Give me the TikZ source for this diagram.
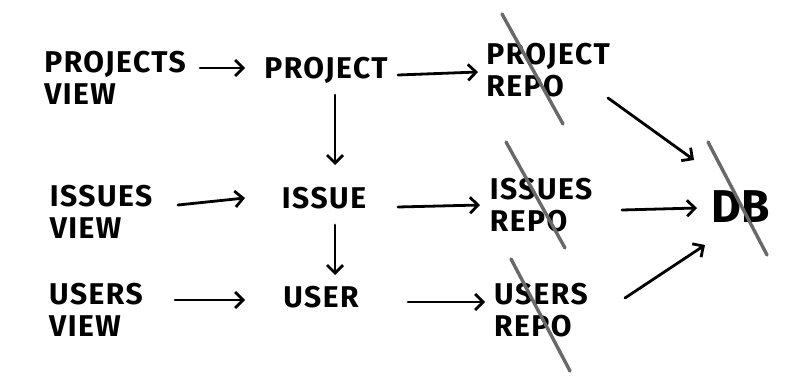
\documentclass[tikz,border=0pt]{standalone}
\usepackage{fontspec}
\setmainfont{Fira Sans}
\newfontfamily\handfont[LetterSpace=5]{Fira Sans}
\usetikzlibrary{arrows.meta}
\definecolor{slashgray}{RGB}{105,105,105}
\begin{document}
\begin{tikzpicture}[x=1pt,y=-1pt,
  lbl/.style={font=\handfont\bfseries\fontsize{30}{32}\selectfont, align=left, inner sep=1pt, anchor=center},
  arr/.style={line width=2.8pt, line cap=round, -{Straight Barb[length=8pt,width=16pt,line width=2.8pt]}},
  slash/.style={line width=3.4pt, draw=slashgray, line cap=round}]
\useasboundingbox (0,0) rectangle (800,385);
% nodes
\node[lbl] (pv) at (115,78) {PROJECTS\\VIEW};
\node[lbl] (p)  at (326,70) {PROJECT};
\node[lbl] (pr) at (548,70) {PROJECT\\REPO};
\node[lbl] (iv) at (101,212) {ISSUES\\VIEW};
\node[lbl] (i)  at (324,198) {ISSUE};
\node[lbl] (ir) at (541,205) {ISSUES\\REPO};
\node[lbl] (uv) at (96,310) {USERS\\VIEW};
\node[lbl] (u)  at (321,297) {USER};
\node[lbl] (ur) at (541,310) {USERS\\REPO};
\node[lbl, font=\bfseries\fontsize{46}{50}\selectfont] (db) at (741,207) {DB};
% slashes
\coordinate (s1a) at (502,14);  \coordinate (s1b) at (563,124);
\coordinate (s2a) at (506,142); \coordinate (s2b) at (565,248);
\coordinate (s3a) at (511,259); \coordinate (s3b) at (570,371);
\coordinate (s4a) at (708,142); \coordinate (s4b) at (767,255);
\draw[slash] (s1a) -- (s1b);
\draw[slash] (s2a) -- (s2b);
\draw[slash] (s3a) -- (s3b);
\draw[slash] (s4a) -- (s4b);
% connectors
\draw[arr] ([xshift=85pt,yshift=10pt]pv.center) -- ([xshift=-81pt,yshift=2pt]p.center);
\draw[arr] ([xshift=72pt,yshift=-5pt]p.center) -- ([xshift=-70pt,yshift=-2pt]pr.center);
\draw[arr] ([xshift=9pt,yshift=-25pt]p.center) -- ([xshift=11pt,yshift=33pt]i.center);
\draw[arr] ([xshift=77pt,yshift=7pt]iv.center) -- ([xshift=-79pt]i.center);
\draw[arr] ([xshift=74pt,yshift=-9pt]i.center) -- ([xshift=-61pt]ir.center);
\draw[arr] ([xshift=11pt,yshift=-27pt]i.center) -- ([xshift=14pt,yshift=22pt]u.center);
\draw[arr] ([xshift=79pt,yshift=10pt]uv.center) -- ([xshift=-76pt,yshift=-3pt]u.center);
\draw[arr] ([xshift=87pt,yshift=-5pt]u.center) -- ([xshift=-56pt,yshift=8pt]ur.center);
\draw[arr] ([xshift=60pt,yshift=-28pt]pr.center) -- ([xshift=-47pt,yshift=47pt]db.center);
\draw[arr] ([xshift=81pt,yshift=-5pt]ir.center) -- ([xshift=-44pt,yshift=-1pt]db.center);
\draw[arr] ([xshift=84pt,yshift=12pt]ur.center) -- ([xshift=-36pt,yshift=-38pt]db.center);
\end{tikzpicture}
\end{document}
